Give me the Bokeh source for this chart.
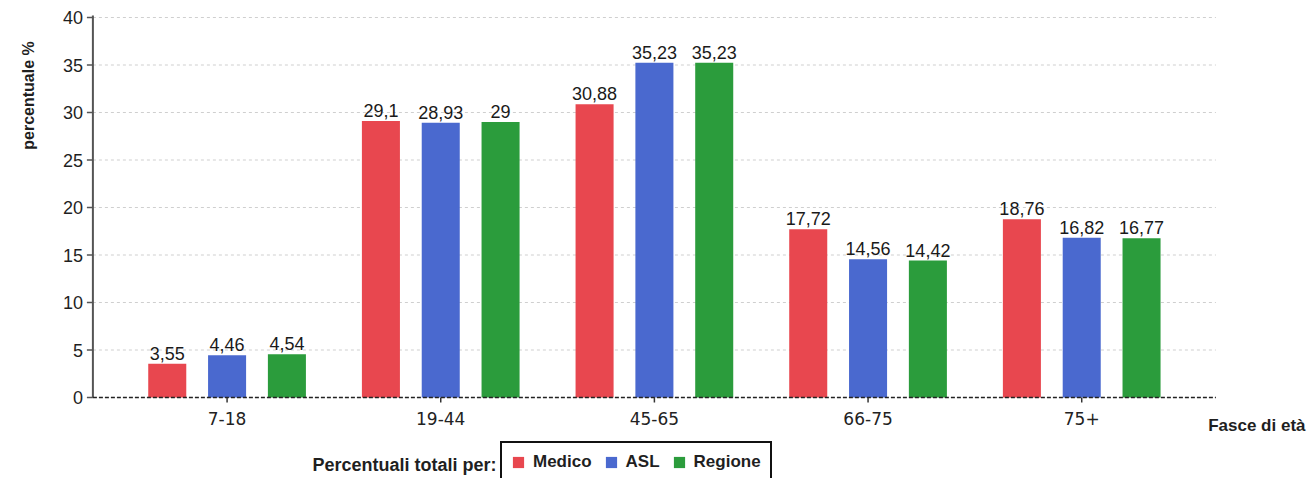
import math
import numpy as np
from bokeh.plotting import figure
from bokeh.models import ColumnDataSource, Label, Legend, LegendItem, Range1d
from bokeh.core.properties import value
from bokeh.embed import file_html
from bokeh.resources import INLINE

# ---------------- data ----------------
categories = ["7-18", "19-44", "45-65", "66-75", "75+"]
medico = [3.55, 29.1, 30.88, 17.72, 18.76]
asl = [4.46, 28.93, 35.23, 14.56, 16.82]
regione = [4.54, 29.0, 35.23, 14.42, 16.77]
series_names = ["Medico", "ASL", "Regione"]
y_ticks = [0, 5, 10, 15, 20, 25, 30, 35, 40]
y_label = "percentuale %"
x_label = "Fasce di età"
legend_title = "Percentuali totali per:"

colors = ["#e8474f", "#4a69cf", "#2b9c3c"]
FONT = "Liberation Sans"
XFONT = "DejaVu Sans"

W, H = 1314, 478
# layout of plot area (pixels)
PX_LEFT, PX_RIGHT, PX_BOTTOM, PX_TOP = 92.4, 1215.4, 397.0, 17.0
n = len(categories)
pad = 0.128
x0, x1 = -0.5 - pad, n - 0.5 + pad           # plot-area extent in data units
px_per_x = (PX_RIGHT - PX_LEFT) / (x1 - x0)
y0, y1 = y_ticks[0], y_ticks[-1]
px_per_y = (PX_BOTTOM - PX_TOP) / (y1 - y0)

xr = Range1d(x0 - PX_LEFT / px_per_x, x1 + (W - PX_RIGHT) / px_per_x)
yr = Range1d(y0 - (H - PX_BOTTOM) / px_per_y, y1 + PX_TOP / px_per_y)

p = figure(width=W, height=H, output_backend="svg", toolbar_location=None,
           x_range=xr, y_range=yr, x_axis_location=None, y_axis_location=None,
           min_border=0, min_border_left=0, min_border_right=0,
           min_border_top=0, min_border_bottom=0)
p.outline_line_color = None
p.xgrid.visible = False
p.ygrid.visible = False
p.background_fill_color = "white"
p.border_fill_color = "white"

def fmt(v):
    return f"{v:g}".replace(".", ",")

idx = np.arange(n)

# grid lines
grid_y = [t for t in y_ticks if t > 0]
p.segment(x0=[x0] * len(grid_y), x1=[x1] * len(grid_y), y0=grid_y, y1=grid_y,
          line_color="#cfcfcf", line_width=1, line_dash="3 3")

# bars + value labels
offsets = [-0.28, 0.0, 0.28]
renderers = []
for vals, off, col in zip([medico, asl, regione], offsets, colors):
    src = ColumnDataSource(dict(x=idx + off, top=vals, t=[fmt(v) for v in vals]))
    r = p.vbar(x="x", top="top", width=0.178, source=src, fill_color=col, line_color=None)
    renderers.append(r)
    p.text(x="x", y="top", text="t", source=src, text_align="center", text_baseline="bottom",
           y_offset=-4, text_font=value(FONT), text_font_size="18px", text_color="#1a1a1a")

# y axis
p.segment(x0=[x0], x1=[x0], y0=[y0], y1=[y1 + 2 / px_per_y], line_color="#555555", line_width=2)
tick_len_x = 6 / px_per_x
p.segment(x0=[x0 - tick_len_x] * len(y_ticks), x1=[x0] * len(y_ticks), y0=y_ticks, y1=y_ticks,
          line_color="#555555", line_width=1.5)
p.text(x=[x0] * len(y_ticks), y=y_ticks, text=[str(t) for t in y_ticks], x_offset=-10,
       text_align="right", text_baseline="middle", text_font=value(FONT),
       text_font_size="18px", text_color="#1f1f1f")

# x axis
p.segment(x0=[x0], x1=[x1], y0=[0], y1=[0], line_color="#222222", line_width=1.3, line_dash="4 2")
tick_len_y = 5 / px_per_y
p.segment(x0=idx, x1=idx, y0=[0] * n, y1=[-tick_len_y] * n, line_color="#333333", line_width=1.5)
p.text(x=idx, y=[0] * n, text=categories, y_offset=14, text_align="center", text_baseline="top",
       text_font=value(XFONT), text_font_size="17px", text_color="#222222")

# axis titles
p.add_layout(Label(x=28, y=H - 95, x_units="screen", y_units="screen", text=y_label,
                   angle=math.pi / 2, text_align="center", text_baseline="middle",
                   text_font=FONT, text_font_size="16px", text_font_style="bold",
                   text_color="#1f1f1f"))
p.add_layout(Label(x=1305, y=H - 425, x_units="screen", y_units="screen", text=x_label,
                   text_align="right", text_baseline="middle",
                   text_font=FONT, text_font_size="17px", text_font_style="bold",
                   text_color="#1f1f1f"))
p.add_layout(Label(x=496, y=H - 464, x_units="screen", y_units="screen", text=legend_title,
                   text_align="right", text_baseline="middle",
                   text_font=FONT, text_font_size="18px", text_font_style="bold",
                   text_color="#1f1f1f"))

legend = Legend(items=[LegendItem(label=s, renderers=[r]) for s, r in zip(series_names, renderers)],
                orientation="horizontal", location=(500, -5),
                border_line_color="#111111", border_line_width=2, border_line_alpha=1.0,
                background_fill_color="white", background_fill_alpha=1.0,
                padding=9, margin=0, spacing=12,
                glyph_width=14, glyph_height=14, label_standoff=8,
                label_text_font=FONT, label_text_font_size="17px", label_text_font_style="bold",
                label_text_color="#1f1f1f", label_height=20)
p.add_layout(legend, "center")

open("out.html", "w").write(file_html(p, INLINE))
